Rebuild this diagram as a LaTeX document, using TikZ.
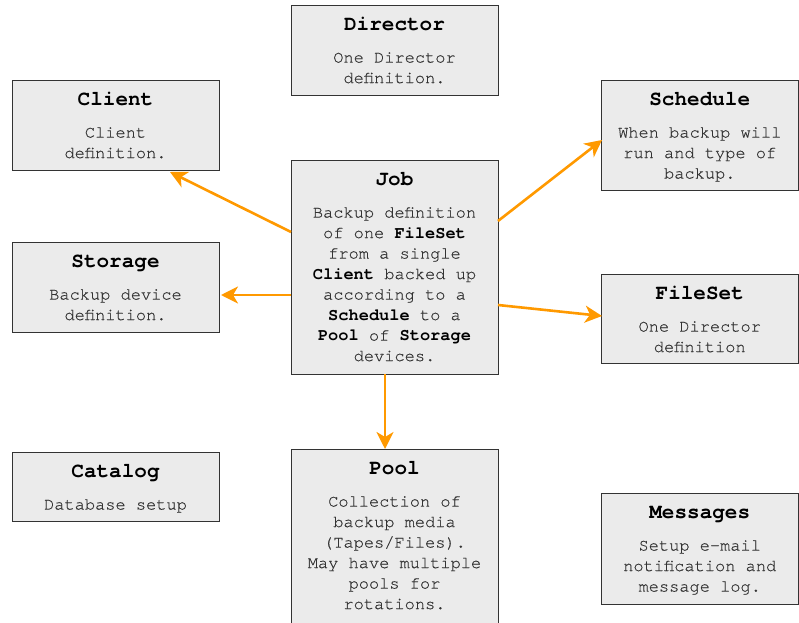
\documentclass[tikz,border=0pt]{standalone}
\usepackage{fontspec}
\setmonofont{TeX Gyre Cursor}
\newfontfamily\bodyfont{TeX Gyre Cursor}[UprightFeatures={FakeBold=0.35}]
\usetikzlibrary{arrows.meta}
\definecolor{boxfill}{HTML}{EBEBEB}
\definecolor{boxline}{HTML}{333333}
\definecolor{bodytext}{HTML}{333333}
\definecolor{arrowc}{HTML}{FF9900}
\newcommand\kw[1]{\textcolor{black}{\ttfamily\bfseries #1}}
\begin{document}
\begin{tikzpicture}[x=1pt,y=1pt,
  box/.style={draw=boxline, fill=boxfill, line width=0.9pt, inner sep=0pt, outer sep=0pt},
  ttl/.style={anchor=base, inner sep=0pt, font=\ttfamily\bfseries\fontsize{21}{25}\selectfont, text=black},
  bdy/.style={anchor=north, inner sep=0pt, align=center, font=\bodyfont\fontsize{17}{20.5}\selectfont, text=bodytext},
  conn/.style={draw=arrowc, line width=2.6pt, -{Stealth[length=17pt, width=17pt, inset=5pt]}}
]
\useasboundingbox (0,0) rectangle (799,622);

% boxes
\node[box, minimum width=207pt, minimum height=90pt] (director) at (394.5,572) {};
\node[box, minimum width=207pt, minimum height=90pt] (client) at (115.5,497) {};
\node[box, minimum width=197.5pt, minimum height=110pt] (schedule) at (699.75,487) {};
\node[box, minimum width=207pt, minimum height=214pt] (job) at (394.5,355) {};
\node[box, minimum width=207pt, minimum height=90pt] (storage) at (115.5,335) {};
\node[box, minimum width=197.5pt, minimum height=89pt] (fileset) at (699.75,303.5) {};
\node[box, minimum width=207pt, minimum height=69pt] (catalog) at (115.5,135.5) {};
\node[box, minimum width=207pt, minimum height=178pt] (pool) at (394.5,84) {};
\node[box, minimum width=197.5pt, minimum height=111pt] (messages) at (699.75,73.5) {};

% titles
\node[ttl] (directorT) at ([yshift=-25.5pt]director.north) {Director};
\node[ttl] (clientT) at ([yshift=-25.5pt]client.north) {Client};
\node[ttl] (scheduleT) at ([yshift=-25.5pt]schedule.north) {Schedule};
\node[ttl] (jobT) at ([yshift=-25.5pt]job.north) {Job};
\node[ttl] (storageT) at ([yshift=-25.5pt]storage.north) {Storage};
\node[ttl] (filesetT) at ([yshift=-25.5pt]fileset.north) {FileSet};
\node[ttl] (catalogT) at ([yshift=-25.5pt]catalog.north) {Catalog};
\node[ttl] (poolT) at ([yshift=-25.5pt]pool.north) {Pool};
\node[ttl] (messagesT) at ([yshift=-25.5pt]messages.north) {Messages};

% bodies
\node[bdy] (directorB) at ([yshift=-43pt]director.north) {\strut One Director\\definition.};
\node[bdy] (clientB) at ([yshift=-43pt]client.north) {\strut Client\\definition.};
\node[bdy] (scheduleB) at ([yshift=-43pt]schedule.north) {\strut When backup will\\run and type of\\backup.};
\node[bdy] (jobB) at ([yshift=-43pt]job.north) {\strut Backup definition\\of one \kw{FileSet}\\from a single\\\kw{Client} backed up\\according to a\\\kw{Schedule} to a\\\kw{Pool} of \kw{Storage}\\devices.};
\node[bdy] (storageB) at ([yshift=-43pt]storage.north) {\strut Backup device\\definition.};
\node[bdy] (filesetB) at ([yshift=-43pt]fileset.north) {\strut One Director\\definition};
\node[bdy] (catalogB) at ([yshift=-43pt]catalog.north) {\strut Database setup};
\node[bdy] (poolB) at ([yshift=-43pt]pool.north) {\strut Collection of\\backup media\\(Tapes/Files).\\May have multiple\\pools for\\rotations.};
\node[bdy] (messagesB) at ([yshift=-43pt]messages.north) {\strut Setup e-mail\\notification and\\message log.};

% connectors
\draw[conn] ([yshift=35pt]job.west) -- ([xshift=54.5pt,yshift=-2pt]client.south);
\draw[conn] ([yshift=-28pt]job.west) -- ([xshift=2pt,yshift=-8pt]storage.east);
\draw[conn] ([yshift=46pt]job.east) -- ([xshift=1pt,yshift=-5pt]schedule.west);
\draw[conn] ([yshift=-38pt]job.east) -- ([xshift=1pt,yshift=2.5pt]fileset.west);
\draw[conn] ([xshift=-9.5pt]job.south) -- ([xshift=-9.5pt]pool.north);
\end{tikzpicture}
\end{document}
